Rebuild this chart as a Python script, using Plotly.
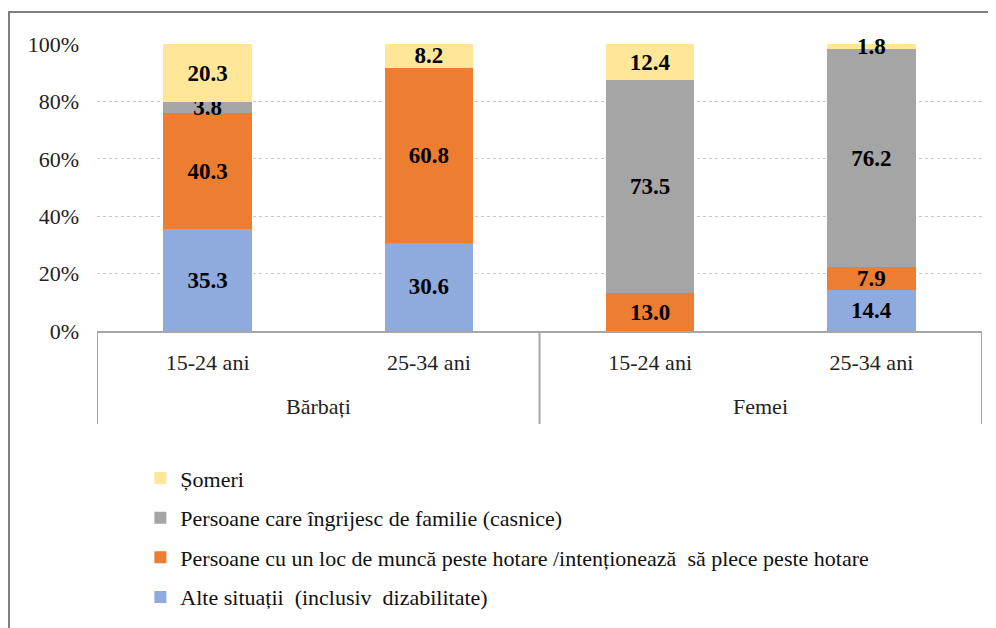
import plotly.graph_objects as go

# categorii pe axa X (doua niveluri)
gen = ["Bărbați", "Bărbați", "Femei", "Femei"]
varsta = ["15-24 ani", "25-34 ani", "15-24 ani", "25-34 ani"]

# valori (%) pe fiecare categorie
alte = [35.3, 30.6, 0, 14.4]
munca = [40.3, 60.8, 13.0, 7.9]
casnice = [3.8, 0, 73.5, 76.2]
someri = [20.3, 8.2, 12.4, 1.8]

serii = [
    ("Alte situații  (inclusiv  dizabilitate)", alte, "#8FAADC"),
    ("Persoane cu un loc de muncă peste hotare /intenționează  să plece peste hotare", munca, "#ED7D31"),
    ("Persoane care îngrijesc de familie (casnice)", casnice, "#A5A5A5"),
    ("Șomeri", someri, "#FFE699"),
]

FONT = "Liberation Serif"
poz = list(range(len(varsta)))  # pozitia fiecarei coloane pe axa X

fig = go.Figure()
for i, (nume, vals, culoare) in enumerate(serii):
    fig.add_trace(go.Bar(
        x=poz,
        y=vals,
        name=nume,
        marker=dict(color=culoare, line=dict(width=0)),
        text=[f"{v:.1f}" if v > 0 else "" for v in vals],
        textposition="inside",
        insidetextanchor="middle",
        textangle=0,
        textfont=dict(family=FONT, size=23, color="black", weight="bold"),
        cliponaxis=False,
        legendgroup=f"g{i}",
        legendrank=len(serii) - i,
        customdata=[[g, v] for g, v in zip(gen, varsta)],
        hovertemplate="%{customdata[0]}, %{customdata[1]}<br>" + nume + ": %{text}<extra></extra>",
    ))

# pagina html are 8px margine in jurul graficului
L, T = 89, 36
PW, PH = 885, 287
FW, FH = 988, 620

fig.update_layout(
    width=FW, height=FH,
    barmode="stack",
    barnorm="percent",
    bargap=0.6,
    uniformtext=dict(minsize=23, mode="show"),
    margin=dict(l=L, r=FW - L - PW, t=T, b=FH - T - PH, autoexpand=False),
    plot_bgcolor="white",
    paper_bgcolor="white",
    font=dict(family=FONT, size=22, color="#222222"),
    xaxis=dict(
        range=[-0.5, len(varsta) - 0.5],
        tickvals=poz,
        ticktext=varsta,
        ticks="",
        ticklabelstandoff=11,
        showline=True, linecolor="#A6A6A6", linewidth=2,
        showgrid=False, zeroline=False,
        tickfont=dict(family=FONT, size=22, color="#222222"),
    ),
    yaxis=dict(
        range=[0, 100.01],  # putin peste 100 ca sa nu se piarda etichetele de sus
        tick0=0,
        dtick=20,
        ticksuffix="%",
        showgrid=True, gridcolor="#C8C8C8", griddash="dot", gridwidth=1,
        zeroline=False,
        showline=False,
        ticklabelstandoff=17,
        tickfont=dict(family=FONT, size=22, color="#222222"),
    ),
    legend=dict(
        x=0.049, y=-0.44, xanchor="left", yanchor="top",
        orientation="v",
        traceorder="grouped",
        tracegroupgap=8,
        font=dict(family=FONT, size=22, color="#111111"),
        itemwidth=30,
        bgcolor="rgba(0,0,0,0)",
    ),
    showlegend=True,
)

# grupurile (Bărbați / Femei): eticheta centrata si linii de separare
grupuri = []
for i, g in enumerate(gen):
    if not grupuri or grupuri[-1][0] != g:
        grupuri.append([g, i, i])
    else:
        grupuri[-1][2] = i

div_y = -(424 - 331) / PH
for g, a, b in grupuri:
    fig.add_annotation(
        x=(a + b) / 2, y=-(406 - 331) / PH, xref="x", yref="paper",
        text=g, showarrow=False, yanchor="middle",
        font=dict(family=FONT, size=22, color="#222222"),
    )
for xd in sorted({a - 0.5 for _, a, _ in grupuri} | {b + 0.5 for _, _, b in grupuri}):
    fig.add_shape(
        type="line", xref="x", yref="paper",
        x0=xd, x1=xd, y0=0, y1=div_y,
        line=dict(color="#A6A6A6", width=2),
    )

# chenarul exterior al graficului
fig.add_shape(
    type="rect", xref="paper", yref="paper",
    x0=(1 - L) / PW, x1=(987 - L) / PW,
    y0=-(FH + 20 - T - PH) / PH, y1=1 + (T - 4) / PH,
    line=dict(color="#7F7F7F", width=2),
    layer="below",
)

fig.write_html("out.html")
